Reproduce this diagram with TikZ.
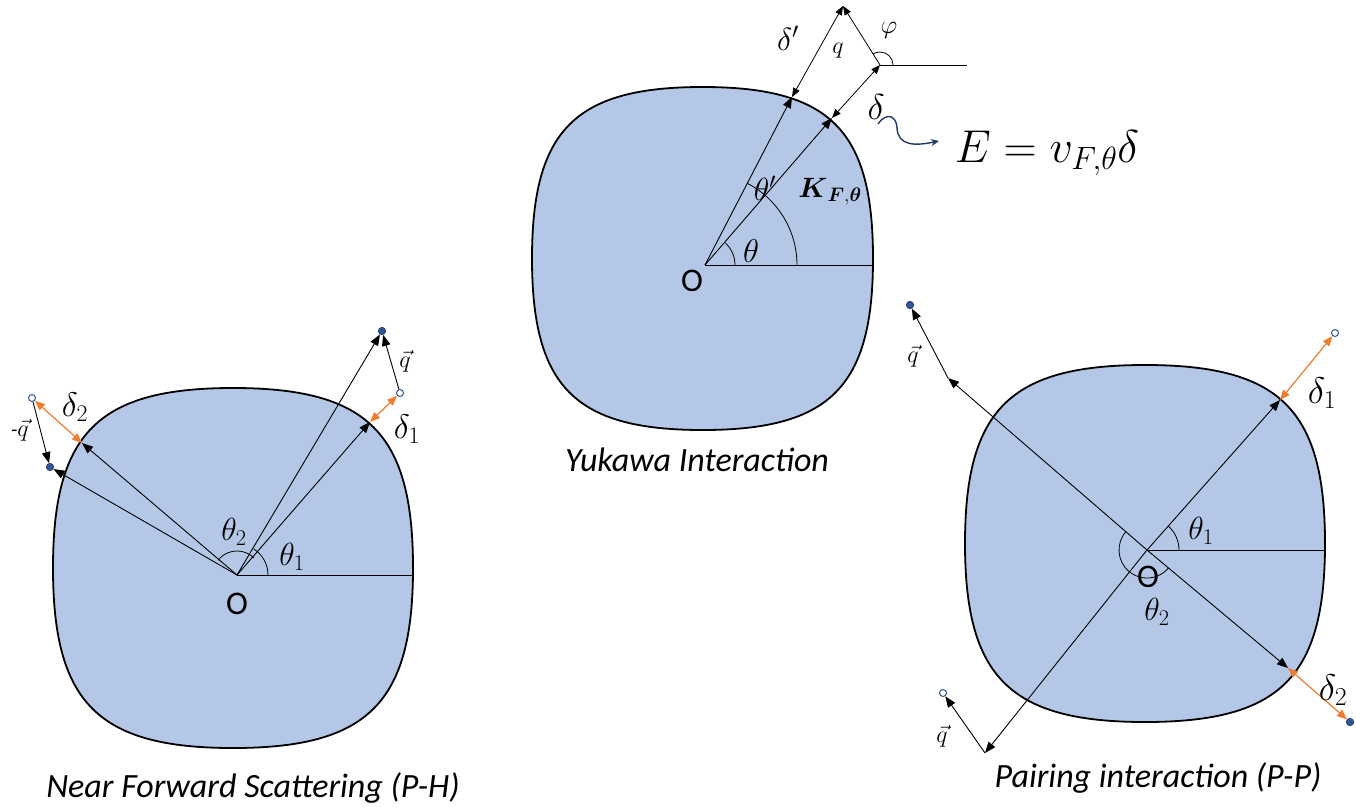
\RequirePackage{fix-cm}
\documentclass[tikz,border=0pt]{standalone}
\usepackage{amsmath}
\usepackage{fontspec}
\newfontfamily\carlito{Carlito}
\usetikzlibrary{arrows.meta}
\definecolor{fsblue}{HTML}{B4C7E7}
\definecolor{orng}{HTML}{ED7D31}
\definecolor{dotb}{HTML}{2F5597}
\definecolor{navyc}{HTML}{1F3864}
\tikzset{
  fs/.style={draw=black, line width=1.8pt, fill=fsblue},
  ray/.style={line width=0.9pt, -{Triangle[length=11pt,width=8.5pt]}},
  oarr/.style={draw=orng, line width=1.2pt, {Triangle[length=10pt,width=8pt]}-{Triangle[length=10pt,width=8pt]}},
  darr/.style={line width=0.8pt, {Triangle[length=9pt,width=7pt]}-{Triangle[length=9pt,width=7pt]}},
  hline/.style={line width=0.9pt},
  angarc/.style={line width=0.8pt},
  fdot/.style={circle, inner sep=0pt, minimum size=7.5pt, fill=dotb, draw=navyc, line width=0.6pt},
  odot/.style={circle, inner sep=0pt, minimum size=7pt, fill=white, draw=dotb, line width=1pt},
  dlbl/.style={inner sep=0pt, font=\fontsize{34}{38}\selectfont},
  tlbl/.style={inner sep=0pt, font=\fontsize{32}{36}\selectfont},
  slbl/.style={inner sep=0pt, font=\fontsize{24}{28}\selectfont},
  olbl/.style={inner sep=0pt, font=\carlito\fontsize{33}{38}\selectfont},
  ttl/.style={inner sep=0pt, font=\carlito\itshape\fontsize{34}{40}\selectfont},
}
\begin{document}
\begin{tikzpicture}[x=1pt,y=1pt]
\useasboundingbox (0,0) rectangle (1356,-806);

% ---------------- shapes ----------------
\begin{scope}[shift={(233,-568)}]
\draw[fs] (180,0) .. controls (180,135) and (135,180) .. (0,180)
  .. controls (-135,180) and (-180,135) .. (-180,0)
  .. controls (-180,-135) and (-135,-180) .. (0,-180)
  .. controls (135,-180) and (180,-135) .. cycle;
\end{scope}
\begin{scope}[shift={(702.5,-258.5)}]
\draw[fs] (170.5,0) .. controls (170.5,128) and (128,171.5) .. (0,171.5)
  .. controls (-128,171.5) and (-170.5,128) .. (-170.5,0)
  .. controls (-170.5,-128) and (-128,-171.5) .. (0,-171.5)
  .. controls (128,-171.5) and (170.5,-128) .. cycle;
\end{scope}
\begin{scope}[shift={(1145,-543.5)}]
\draw[fs] (180,0) .. controls (180,134) and (135,178.5) .. (0,178.5)
  .. controls (-135,178.5) and (-180,134) .. (-180,0)
  .. controls (-180,-134) and (-135,-178.5) .. (0,-178.5)
  .. controls (135,-178.5) and (180,-134) .. cycle;
\end{scope}

% ---------------- left: near forward scattering ----------------
\coordinate (LO) at (237,-575);
\coordinate (LH) at (413,-575);
\coordinate (L1) at (370,-422);
\coordinate (L3) at (82,-443);
\node[odot] (Lc1) at (400,-393) {};
\node[fdot] (Ld1) at (382,-331) {};
\node[odot] (Lc2) at (32,-398) {};
\node[fdot] (Ld2) at (50,-467) {};
\draw[hline] (LO) -- (LH);
\draw[angarc] (LO) ++(31,0) arc[start angle=0,end angle=57,radius=31];
\draw[angarc] (LO) ++(45:24) arc[start angle=45,end angle=142,radius=24];
\draw[ray] (LO) -- (L1);
\draw[ray] (LO) -- (Ld1);
\draw[ray] (LO) -- (L3);
\draw[ray] (LO) -- (Ld2);
\draw[ray] (Lc1) -- (Ld1);
\draw[ray] (Lc2) -- (Ld2);
\draw[oarr] (L1) -- (Lc1);
\draw[oarr] (L3) -- (Lc2);
\node[dlbl] (Ld1l) at (407,-429) {$\delta_1$};
\node[dlbl] (Ld2l) at (75,-407) {$\delta_2$};
\node[slbl] (Lql) at (405,-361) {$\vec{q}$};
\node[slbl] (Lmql) at (20,-430) {{\carlito\fontsize{20}{22}\selectfont -}$\vec{q}$};
\node[tlbl] (Lt1) at (292,-557) {$\theta_1$};
\node[tlbl] (Lt2) at (234,-532) {$\theta_2$};
\node[olbl] (LOl) at (237,-604) {O};
\node[ttl] (Lttl) at (253,-788) {Near Forward Scattering (P-H)};

% ---------------- middle: Yukawa ----------------
\coordinate (MO) at (705,-265);
\coordinate (MH) at (873,-265);
\coordinate (Mp) at (792,-97);
\coordinate (Mk) at (832,-118);
\coordinate (Mtop) at (843,-6);
\coordinate (Mq) at (880,-65);
\coordinate (Mh) at (967,-65);
\draw[hline] (MO) -- (MH);
\draw[angarc] (MO) ++(30,0) arc[start angle=0,end angle=49,radius=30];
\draw[angarc] (MO) ++(92,0) arc[start angle=0,end angle=62.6,radius=92];
\draw[ray] (MO) -- (Mp);
\draw[ray] (MO) -- (Mk);
\draw[darr] (Mp) -- (Mtop);
\draw[darr] (Mk) -- (Mq);
\draw[line width=0.8pt, -{Triangle[length=9pt,width=7pt]}] (Mq) -- (Mtop);
\draw[hline] (Mq) -- (Mh);
\draw[angarc] (Mq) ++(13,0) arc[start angle=0,end angle=122,radius=13];
\node[dlbl, font=\fontsize{32}{36}\selectfont] (Mdp) at (788,-38) {$\delta'$};
\node[slbl] (Mql) at (838,-51) {$q$};
\node[slbl, font=\fontsize{26}{28}\selectfont] (Mphi) at (889,-30) {$\varphi$};
\node[dlbl, font=\fontsize{36}{40}\selectfont] (Mdl) at (876,-107) {$\delta$};
\node[tlbl] (Mtp) at (765,-188) {$\theta'$};
\node[tlbl, font=\fontsize{28}{30}\selectfont] (MK) at (830,-192) {$\boldsymbol{K}_{\boldsymbol{F},\boldsymbol{\theta}}$};
\node[tlbl, font=\fontsize{33}{36}\selectfont] (Mt) at (751,-251) {$\theta$};
\node[olbl] (MOl) at (692,-281) {O};
\node[ttl] (Mttl) at (697,-460) {Yukawa Interaction};
\node[inner sep=0pt, font=\fontsize{46}{52}\selectfont] (eq) at (1047,-153) {$E = v_{F,\theta}\delta$};
\coordinate (wv0) at (878,-124);
\coordinate (wv1) at (939,-141);
\draw[navyc, line width=1.4pt, -{Stealth[length=8pt,width=7pt]}] (wv0) .. controls (888,-110) and (897,-118) .. (897,-128) .. controls (898,-146) and (915,-146) .. (wv1);

% ---------------- right: pairing ----------------
\coordinate (RO) at (1147,-550);
\coordinate (RH) at (1325,-550);
\coordinate (R1) at (1280,-400);
\coordinate (R2) at (948,-378);
\coordinate (R3) at (1288,-668);
\coordinate (R4) at (985,-753);
\node[odot] (Rc1) at (1335,-333) {};
\node[fdot] (Rd2) at (910,-305) {};
\node[fdot] (Rd3) at (1350,-722) {};
\node[odot] (Rc4) at (943,-693) {};
\draw[hline] (RO) -- (RH);
\draw[angarc] (RO) ++(32,0) arc[start angle=0,end angle=48,radius=32];
\draw[angarc] (RO) ++(139:28) arc[start angle=139,end angle=320,radius=28];
\draw[ray] (RO) -- (R1);
\draw[ray] (RO) -- (R2);
\draw[ray] (RO) -- (R3);
\draw[ray] (RO) -- (R4);
\draw[ray] (R2) -- (Rd2);
\draw[ray] (R4) -- (Rc4);
\draw[oarr] (R1) -- (Rc1);
\draw[oarr] (R3) -- (Rd3);
\node[dlbl, font=\fontsize{37}{40}\selectfont] (Rd1l) at (1322,-393) {$\delta_1$};
\node[dlbl, font=\fontsize{37}{40}\selectfont] (Rd2l) at (1333,-690) {$\delta_2$};
\node[slbl] (Rq1) at (913,-356) {$\vec{q}$};
\node[slbl] (Rq2) at (942,-736) {$\vec{q}$};
\node[tlbl] (Rt1) at (1201,-531) {$\theta_1$};
\node[tlbl] (Rt2) at (1157,-612) {$\theta_2$};
\node[olbl] (ROl) at (1148,-577) {O};
\node[ttl] (Rttl) at (1158,-778) {Pairing interaction (P-P)};
\end{tikzpicture}
\end{document}
